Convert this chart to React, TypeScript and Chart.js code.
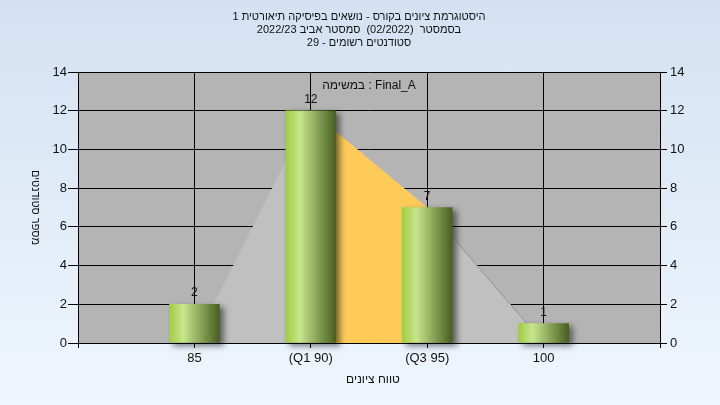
import React, { useEffect, useRef } from 'react';
import { Chart, registerables } from 'chart.js';

Chart.register(...registerables);

// ---- data ----
const categories = ['85', '(Q1 90)', '(Q3 95)', '100'];
const counts = [2, 12, 7, 1];
const polygonValues = [0, 12, 7, 0];
const quartileValues: (number | null)[] = [null, 12, 7, null];
const yMin = 0;
const yMax = 14;
const yStep = 2;
const titleLines = [
  'היסטוגרמת ציונים בקורס - נושאים בפיסיקה תיאורטית 1',
  'בסמסטר  (02/2022)  סמסטר אביב 2022/23',
  'סטודנטים רשומים - 29',
];
const taskLabel = 'במשימה : Final_A';
const xTitle = 'טווח ציונים';
const yTitle = 'מספר סטודנטים';

const FONT = "'Liberation Sans', Arial, sans-serif";
const BAR_W = 50;

const pad = <T,>(arr: T[]): (T | null)[] => [null, ...arr, null];
const labels = ['', ...categories, ''];

const plotBg = {
  id: 'plotBg',
  beforeDraw(chart: any) {
    const { ctx, chartArea: a } = chart;
    ctx.save();
    ctx.fillStyle = '#b4b4b4';
    ctx.fillRect(a.left, a.top, a.right - a.left, a.bottom - a.top);
    ctx.restore();
  },
};

const barShadow = {
  id: 'barShadow',
  beforeDatasetDraw(chart: any, args: any) {
    if (args.meta.type === 'bar') {
      const ctx = chart.ctx;
      ctx.save();
      ctx.shadowColor = 'rgba(0,0,0,0.5)';
      ctx.shadowBlur = 6;
      ctx.shadowOffsetX = 4;
      ctx.shadowOffsetY = 3;
    }
  },
  afterDatasetDraw(chart: any, args: any) {
    if (args.meta.type === 'bar') chart.ctx.restore();
  },
};

const texts = {
  id: 'texts',
  afterDraw(chart: any) {
    const { ctx, chartArea: a, width } = chart;
    ctx.save();
    ctx.fillStyle = '#111';
    ctx.textAlign = 'center';
    ctx.textBaseline = 'middle';
    ctx.font = `11px ${FONT}`;
    titleLines.forEach((t, i) => ctx.fillText(t, width / 2 - 1, 17 + i * 13));
    ctx.font = `12px ${FONT}`;
    ctx.fillText(taskLabel, (a.left + a.right) / 2, a.top + 14);
    ctx.fillText(xTitle, (a.left + a.right) / 2 + 4, a.bottom + 37);
    ctx.save();
    ctx.font = `11px ${FONT}`;
    ctx.translate(35, (a.top + a.bottom) / 2);
    ctx.rotate(Math.PI / 2);
    ctx.fillText(yTitle, 0, 0);
    ctx.restore();
    // value labels
    ctx.textBaseline = 'alphabetic';
    const meta = chart.getDatasetMeta(0);
    meta.data.forEach((el: any, i: number) => {
      const v = chart.data.datasets[0].data[i];
      if (v == null) return;
      ctx.fillText(String(v), el.x, el.y - 8);
    });
    ctx.restore();
  },
};

export default function App() {
  const ref = useRef<HTMLCanvasElement>(null);
  useEffect(() => {
    document.body.style.margin = '0';
    const chart = new Chart(ref.current!, {
      type: 'bar',
      data: {
        labels,
        datasets: [
          {
            type: 'bar',
            data: pad(counts),
            order: 0,
            barThickness: BAR_W,
            clip: false as any,
            backgroundColor: (c: any) => {
              const chart = c.chart;
              if (!chart.chartArea) return '#a6d146';
              const x = chart.scales.x.getPixelForValue(c.dataIndex);
              const g = chart.ctx.createLinearGradient(x - BAR_W / 2, 0, x + BAR_W / 2, 0);
              g.addColorStop(0, '#a0cd40');
              g.addColorStop(0.28, '#c8e58e');
              g.addColorStop(0.6, '#8eaa5c');
              g.addColorStop(1, '#485f20');
              return g;
            },
            borderWidth: 0,
          } as any,
          {
            type: 'line',
            data: pad(quartileValues),
            order: 1,
            fill: 'origin',
            backgroundColor: '#fecb58',
            borderWidth: 0,
            pointRadius: 0,
            tension: 0,
            spanGaps: false,
          } as any,
          {
            type: 'line',
            data: pad(polygonValues),
            order: 2,
            fill: 'origin',
            backgroundColor: '#c0c0c0',
            borderWidth: 1,
            borderColor: 'transparent',
            segment: {
              borderColor: (s: any) => (s.p0DataIndex === 3 ? '#939393' : 'transparent'),
            },
            pointRadius: 0,
            tension: 0,
          } as any,
        ],
      },
      options: {
        animation: false,
        responsive: true,
        maintainAspectRatio: false,
        layout: { padding: { top: 72, left: 0, right: 0, bottom: 0 } },
        plugins: {
          legend: { display: false },
          title: { display: false },
          tooltip: { enabled: false },
        },
        scales: {
          x: {
            type: 'category',
            offset: false,
            grid: { color: '#000', lineWidth: 1, tickLength: 5, offset: false, tickColor: '#000' },
            border: { color: '#000' },
            ticks: { autoSkip: false, maxRotation: 0, padding: 3, color: '#111', font: { family: FONT, size: 13 } },
            afterFit: (s: any) => { s.height = 62; },
          },
          y: {
            position: 'left',
            min: yMin,
            max: yMax,
            ticks: { stepSize: yStep, padding: 1, color: '#111', font: { family: FONT, size: 13 } },
            grid: { color: '#000', lineWidth: 1, tickLength: 10, tickColor: '#000' },
            border: { color: '#000' },
            afterFit: (s: any) => { s.width = 78; },
          },
          y2: {
            position: 'right',
            min: yMin,
            max: yMax,
            ticks: { stepSize: yStep, padding: 3, color: '#111', font: { family: FONT, size: 13 } },
            grid: { drawOnChartArea: false, tickLength: 7, tickColor: '#000', color: '#000' },
            border: { color: '#000' },
            afterFit: (s: any) => { s.width = 60; },
          },
        },
      },
      plugins: [plotBg, barShadow, texts],
    });
    return () => chart.destroy();
  }, []);
  return (
    <div
      style={{
        position: 'fixed',
        left: 0,
        top: 0,
        width: 720,
        height: 405,
        background: 'linear-gradient(#d3e1f2, #eff6fd)',
      }}
    >
      <canvas ref={ref} />
    </div>
  );
}
